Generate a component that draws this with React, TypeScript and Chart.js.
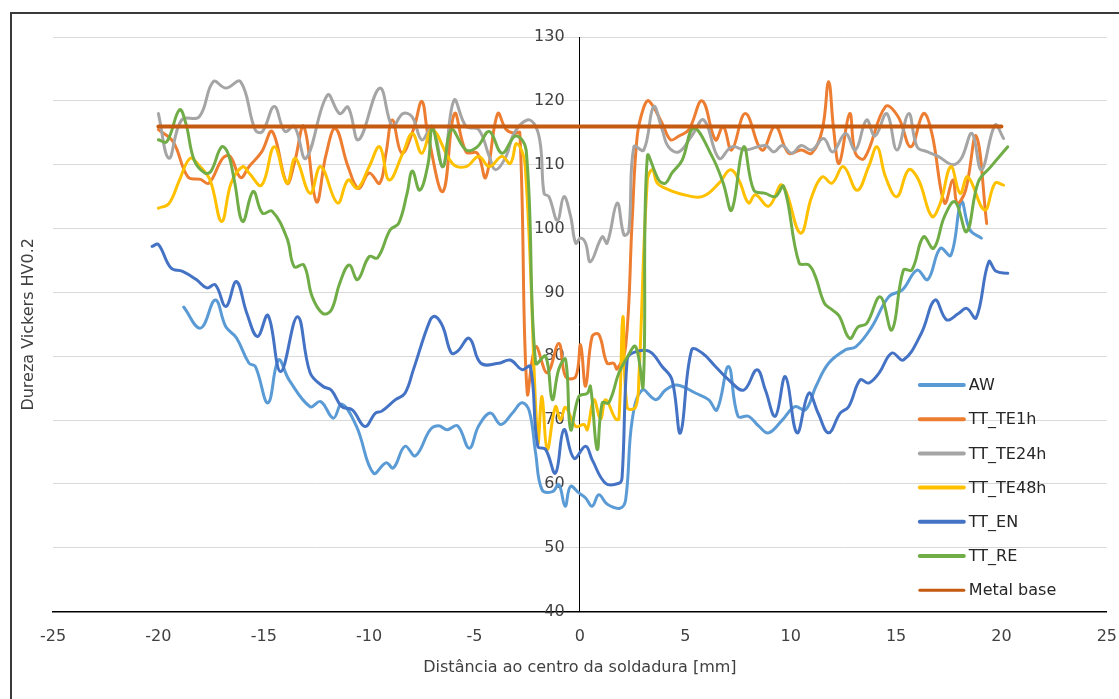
import React, { useEffect, useRef } from "react";
import { Chart, registerables } from "chart.js";

Chart.register(...registerables);

type Pt = [number, number];

const SERIES_NAMES = ["AW", "TT_TE1h", "TT_TE24h", "TT_TE48h", "TT_EN", "TT_RE", "Metal base"];
const SERIES_COLORS = ["#5B9BD5", "#ED7D31", "#A5A5A5", "#FFC000", "#4472C4", "#70AD47", "#C55A11"];

const X_MIN = -25;
const X_MAX = 25;
const X_STEP = 5;
const Y_MIN = 40;
const Y_MAX = 130;
const Y_STEP = 10;

const X_TITLE = "Distância ao centro da soldadura [mm]";
const Y_TITLE = "Dureza Vickers HV0.2";

const AW: Pt[] = [
  [-18.8, 87.7], [-18.0, 84.4], [-17.3, 88.8], [-16.8, 84.6], [-16.3, 82.9], [-15.7, 78.9], [-15.4, 78.4],
  [-14.8, 72.7], [-14.3, 79.4], [-13.8, 76.3], [-12.8, 72.1], [-12.3, 72.9], [-11.7, 70.3], [-11.3, 72.5],
  [-10.6, 69.0], [-9.8, 61.7], [-9.2, 63.3], [-8.85, 62.5], [-8.3, 65.9], [-7.8, 64.4], [-7.1, 68.5],
  [-6.7, 69.1], [-6.3, 68.5], [-5.8, 69.1], [-5.25, 65.6], [-4.8, 69.1], [-4.25, 71.1], [-3.75, 69.3],
  [-3.2, 71.1], [-2.75, 72.7], [-2.4, 71.4], [-2.1, 64.8], [-1.8, 59.1], [-1.3, 58.8], [-1.0, 59.9],
  [-0.7, 56.5], [-0.45, 59.6], [-0.05, 58.6], [0.27, 57.8], [0.58, 56.5], [0.9, 58.3], [1.3, 56.8],
  [1.9, 56.2], [2.17, 57.5], [2.48, 70.0], [2.95, 74.7], [3.6, 73.2], [4.06, 74.7], [4.6, 75.5],
  [5.5, 74.2], [6.1, 73.2], [6.5, 71.6], [7.05, 78.4], [7.5, 70.6], [8.0, 70.6], [8.5, 69.0],
  [8.95, 68.0], [9.6, 70.0], [10.2, 72.1], [10.7, 71.6], [11.2, 75.3], [11.8, 78.9], [12.6, 81.0],
  [13.1, 81.5], [13.85, 84.6], [14.65, 89.3], [15.3, 90.4], [16.0, 93.5], [16.5, 92.0], [17.1, 96.9],
  [17.6, 95.8], [18.1, 104.2], [18.5, 99.8], [19.05, 98.5],
];

const TT_TE1H: Pt[] = [
  [-20.0, 115.5], [-19.3, 113.6], [-18.6, 108.1], [-18.0, 107.7], [-17.6, 107.1], [-16.95, 111.0],
  [-16.6, 111.3], [-16.1, 108.0], [-15.7, 109.7], [-15.1, 112.0], [-14.6, 115.2], [-13.9, 107.1],
  [-13.55, 110.2], [-13.1, 116.0], [-12.5, 104.2], [-12.05, 111.5], [-11.6, 115.7], [-11.0, 109.7],
  [-10.5, 106.3], [-10.0, 108.7], [-9.5, 107.1], [-9.2, 111.8], [-8.9, 117.0], [-8.45, 111.8],
  [-7.9, 115.5], [-7.5, 119.9], [-7.2, 114.5], [-6.5, 105.8], [-5.95, 118.0], [-5.4, 112.0],
  [-4.87, 111.8], [-4.47, 108.0], [-3.9, 118.0], [-3.5, 115.5], [-3.1, 114.9], [-2.85, 115.0],
  [-2.5, 74.2], [-2.1, 81.5], [-1.55, 77.4], [-1.0, 82.0], [-0.68, 76.8], [-0.2, 76.8], [0.03, 81.8],
  [0.27, 75.3], [0.58, 83.1], [0.9, 83.4], [1.29, 78.9], [1.6, 78.9], [1.77, 78.0], [2.17, 81.5],
  [2.48, 101.3], [2.72, 114.5], [3.03, 119.0], [3.27, 120.0], [3.9, 116.5], [4.3, 113.9], [4.7, 114.5],
  [5.17, 115.5], [5.8, 120.0], [6.43, 113.9], [6.8, 116.0], [7.2, 112.3], [7.85, 118.0], [8.64, 112.3],
  [9.27, 116.0], [9.9, 111.8], [10.5, 112.3], [11.0, 111.8], [11.5, 115.5], [11.8, 123.0], [12.04, 115.5],
  [12.3, 110.2], [12.8, 118.0], [13.07, 111.8], [13.5, 111.0], [14.5, 119.1], [15.1, 117.5], [15.7, 112.8],
  [16.3, 118.0], [16.7, 114.9], [17.3, 104.0], [17.7, 107.6], [17.9, 104.0], [18.3, 106.0], [18.8, 114.5],
  [19.3, 100.8],
];

const TT_TE24H: Pt[] = [
  [-20.0, 118.0], [-19.5, 111.0], [-18.9, 117.0], [-18.06, 117.5], [-17.4, 123.0], [-16.8, 122.0],
  [-16.1, 123.0], [-15.4, 115.4], [-15.06, 115.2], [-14.5, 119.1], [-14.0, 115.2], [-13.55, 116.0],
  [-13.0, 111.0], [-11.98, 120.9], [-11.4, 118.0], [-11.0, 119.0], [-10.5, 113.9], [-9.5, 122.0],
  [-8.9, 116.0], [-8.4, 118.0], [-7.96, 117.5], [-7.5, 113.9], [-7.0, 116.0], [-6.5, 109.7],
  [-5.97, 120.1], [-5.4, 116.0], [-4.8, 115.5], [-4.3, 111.3], [-4.0, 109.2], [-3.5, 111.3],
  [-3.13, 114.9], [-2.5, 117.0], [-2.1, 116.0], [-1.86, 112.8], [-1.7, 105.5], [-1.47, 105.0],
  [-1.07, 101.3], [-0.76, 105.0], [-0.44, 101.9], [-0.2, 97.7], [0.03, 98.5], [0.27, 97.7], [0.5, 94.8],
  [1.06, 98.7], [1.29, 97.7], [1.77, 104.0], [2.09, 99.0], [2.32, 99.6], [2.56, 112.8], [3.03, 112.3],
  [3.5, 119.1], [3.9, 115.5], [4.2, 112.8], [4.7, 112.0], [5.3, 114.5], [5.88, 117.0], [6.6, 111.0],
  [7.2, 112.8], [7.85, 112.3], [8.8, 113.0], [9.2, 112.0], [9.6, 113.0], [10.05, 111.8], [10.5, 113.0],
  [11.0, 112.3], [11.56, 114.1], [12.0, 112.0], [12.6, 114.9], [13.07, 112.3], [13.6, 117.0], [14.0, 114.5],
  [14.56, 118.0], [15.04, 112.3], [15.6, 118.0], [16.0, 112.8], [16.5, 112.0], [17.0, 111.3], [17.7, 110.0],
  [18.1, 111.0], [18.6, 114.9], [19.05, 109.2], [19.7, 116.2], [20.1, 114.1],
];

const TT_TE48H: Pt[] = [
  [-20.0, 103.2], [-19.5, 103.9], [-19.0, 107.6], [-18.5, 111.0], [-18.1, 110.0], [-17.55, 107.6],
  [-17.0, 101.1], [-16.55, 107.1], [-16.0, 109.7], [-15.7, 108.7], [-15.1, 106.8], [-14.5, 112.8],
  [-13.9, 107.1], [-13.5, 111.0], [-12.8, 105.5], [-12.3, 109.7], [-11.5, 104.0], [-11.0, 107.6],
  [-10.55, 106.3], [-10.0, 109.7], [-9.5, 112.8], [-9.05, 107.6], [-8.4, 111.8], [-7.95, 114.9],
  [-7.5, 111.8], [-7.0, 115.5], [-6.05, 110.2], [-5.4, 109.7], [-4.8, 111.3], [-4.3, 109.7],
  [-3.7, 111.3], [-3.3, 110.2], [-3.0, 113.3], [-2.6, 110.0], [-2.0, 66.5], [-1.8, 73.7], [-1.55, 65.4],
  [-1.16, 72.1], [-0.92, 70.0], [-0.68, 72.0], [-0.2, 69.0], [0.19, 69.3], [0.35, 68.5], [0.66, 73.2],
  [0.98, 70.2], [1.22, 73.2], [1.69, 70.2], [1.85, 70.2], [2.04, 86.2], [2.24, 72.0], [2.64, 72.0],
  [2.8, 76.8], [3.2, 107.6], [3.44, 109.2], [3.67, 107.1], [4.06, 106.3], [4.7, 105.5], [5.8, 105.0],
  [6.6, 107.1], [7.14, 109.2], [7.54, 107.6], [8.0, 104.0], [8.33, 105.3], [8.96, 103.5], [9.6, 106.8],
  [10.46, 99.3], [11.0, 105.0], [11.5, 108.1], [11.96, 107.1], [12.5, 109.7], [13.15, 106.0], [13.7, 109.7],
  [14.1, 112.8], [14.5, 108.1], [15.04, 105.0], [15.6, 109.2], [16.07, 107.6], [16.7, 101.9], [17.1, 104.0],
  [17.6, 109.7], [18.04, 105.5], [18.4, 108.1], [19.2, 102.9], [19.7, 107.1], [20.1, 106.8],
];

const TT_EN: Pt[] = [
  [-20.3, 97.2], [-20.0, 97.5], [-19.4, 93.8], [-18.85, 93.3], [-18.2, 92.0], [-17.7, 90.7], [-17.3, 91.2],
  [-16.8, 87.8], [-16.3, 91.7], [-15.8, 86.7], [-15.3, 83.1], [-14.8, 86.4], [-14.2, 77.6], [-13.4, 86.2],
  [-12.8, 77.4], [-12.2, 75.3], [-11.8, 74.7], [-11.3, 72.1], [-10.8, 71.6], [-10.2, 69.0], [-9.7, 71.1],
  [-9.4, 71.4], [-8.75, 73.2], [-8.3, 74.2], [-7.9, 77.9], [-7.1, 85.7], [-6.85, 86.2], [-6.5, 84.6],
  [-6.1, 80.5], [-5.8, 80.8], [-5.25, 82.8], [-4.7, 78.9], [-3.85, 78.9], [-3.3, 79.4], [-2.75, 77.9],
  [-2.35, 78.4], [-2.0, 65.9], [-1.63, 65.4], [-1.16, 61.7], [-0.76, 68.5], [-0.28, 64.0], [0.27, 65.9],
  [0.58, 63.8], [1.22, 60.1], [1.85, 60.1], [2.0, 61.0], [2.24, 79.4], [2.48, 80.5], [3.27, 80.8],
  [3.9, 78.4], [4.37, 76.3], [4.77, 68.0], [5.3, 81.0], [5.8, 80.5], [6.43, 78.4], [7.06, 76.3],
  [7.77, 74.7], [8.4, 77.9], [8.8, 74.7], [9.27, 70.6], [9.75, 76.8], [10.3, 68.0], [10.86, 74.2],
  [11.3, 71.1], [11.8, 68.0], [12.35, 71.1], [12.75, 72.1], [13.3, 76.3], [13.7, 75.8], [14.2, 77.4],
  [14.8, 80.5], [15.35, 79.4], [16.2, 83.6], [16.85, 88.8], [17.4, 85.7], [17.96, 86.7], [18.35, 87.5],
  [18.8, 86.0], [19.4, 94.8], [19.75, 93.3], [20.3, 93.0],
];

const TT_RE: Pt[] = [
  [-20.0, 113.9], [-19.6, 113.6], [-19.0, 118.6], [-18.7, 116.5], [-18.3, 110.7], [-17.8, 108.7],
  [-17.5, 109.0], [-17.0, 112.8], [-16.7, 111.8], [-16.4, 107.6], [-16.0, 101.1], [-15.5, 105.8],
  [-15.06, 102.4], [-14.6, 102.7], [-13.9, 98.5], [-13.55, 94.0], [-13.1, 94.3], [-12.7, 89.3],
  [-12.2, 86.7], [-11.8, 87.2], [-11.4, 91.4], [-10.95, 94.3], [-10.55, 92.0], [-10.0, 95.6], [-9.6, 95.4],
  [-9.0, 99.8], [-8.6, 100.8], [-8.2, 105.5], [-7.95, 109.0], [-7.6, 106.0], [-7.2, 110.2], [-7.0, 115.7],
  [-6.5, 109.7], [-6.1, 115.5], [-5.4, 112.3], [-4.87, 112.8], [-4.3, 115.2], [-3.7, 111.8], [-3.05, 114.5],
  [-2.55, 112.3], [-2.1, 78.9], [-1.63, 80.0], [-1.31, 73.2], [-1.0, 78.0], [-0.68, 79.5], [-0.44, 68.5],
  [-0.05, 73.7], [0.35, 74.2], [0.5, 75.3], [0.82, 65.4], [1.06, 72.7], [1.37, 72.7], [1.85, 77.4],
  [2.17, 79.4], [2.64, 81.5], [3.0, 75.3], [3.2, 111.3], [3.74, 107.6], [4.06, 107.1], [4.37, 108.7],
  [4.85, 110.7], [5.4, 115.7], [6.27, 111.3], [6.8, 107.1], [7.2, 102.9], [7.77, 112.8], [8.25, 106.0],
  [8.8, 105.5], [9.27, 105.0], [9.67, 106.6], [10.4, 94.6], [10.86, 94.3], [11.17, 92.5], [11.6, 88.3],
  [11.96, 87.3], [12.3, 86.3], [12.8, 82.8], [13.2, 84.6], [13.6, 85.1], [14.25, 89.3], [14.8, 84.1],
  [15.35, 93.5], [15.75, 93.5], [16.3, 98.7], [16.78, 96.9], [17.3, 101.9], [17.8, 104.2], [18.35, 99.5],
  [18.9, 107.3], [19.5, 109.7], [20.3, 112.8],
];

const METAL_BASE: Pt[] = [
  [-20.0, 116.0], [20.0, 116.0],
];

const SERIES_DATA: Pt[][] = [AW, TT_TE1H, TT_TE24H, TT_TE48H, TT_EN, TT_RE, METAL_BASE];

const FONT_FAMILY = '"DejaVu Sans", "Liberation Sans", sans-serif';
const TEXT_COLOR = "#404040";

const decorPlugin = {
  id: "decor",
  beforeDraw(chart: any) {
    const { ctx, width, height } = chart;
    ctx.save();
    ctx.fillStyle = "#ffffff";
    ctx.fillRect(0, 0, width, height);
    ctx.restore();
  },
  afterDraw(chart: any) {
    const { ctx, chartArea, width, height } = chart;
    ctx.save();
    // outer frame (left and top edges visible)
    ctx.strokeStyle = "#3a3a3a";
    ctx.lineWidth = 2;
    ctx.beginPath();
    ctx.moveTo(11, height);
    ctx.lineTo(11, 13);
    ctx.lineTo(width, 13);
    ctx.stroke();

    // y-axis title
    ctx.fillStyle = TEXT_COLOR;
    ctx.font = `16px ${FONT_FAMILY}`;
    ctx.textAlign = "center";
    ctx.textBaseline = "middle";
    ctx.translate(29, (chartArea.top + chartArea.bottom) / 2);
    ctx.rotate(-Math.PI / 2);
    ctx.fillText(Y_TITLE, 0, 0);
    ctx.restore();

    // legend inside plot
    ctx.save();
    const lx = chartArea.right - 187;
    const ly = 385;
    const gap = 34.2;
    chart.data.datasets.forEach((ds: any, i: number) => {
      const y = ly + i * gap;
      ctx.strokeStyle = ds.borderColor;
      ctx.lineWidth = i === 6 ? 3 : 4;
      ctx.lineCap = "round";
      ctx.beginPath();
      ctx.moveTo(lx, y);
      ctx.lineTo(lx + 44, y);
      ctx.stroke();
      ctx.fillStyle = "#262626";
      ctx.font = `16px ${FONT_FAMILY}`;
      ctx.textAlign = "left";
      ctx.textBaseline = "middle";
      ctx.fillText(ds.label, lx + 49, y + 1);
    });
    ctx.restore();
  },
};

export default function App() {
  const canvasRef = useRef<HTMLCanvasElement | null>(null);

  useEffect(() => {
    if (!canvasRef.current) return;
    const datasets = SERIES_DATA.map((pts, i) => ({
      label: SERIES_NAMES[i],
      data: pts.map(([x, y]) => ({ x, y })),
      borderColor: SERIES_COLORS[i],
      backgroundColor: SERIES_COLORS[i],
      borderWidth: i === 6 ? 4 : 3,
      pointRadius: 0,
      pointHoverRadius: 0,
      tension: i === 6 ? 0 : 0.4,
      fill: false,
      order: SERIES_DATA.length - 1 - i,
      borderCapStyle: "round" as const,
      borderJoinStyle: "round" as const,
    }));

    const chart = new Chart(canvasRef.current, {
      type: "line",
      data: { datasets },
      plugins: [decorPlugin],
      options: {
        animation: false,
        responsive: false,
        maintainAspectRatio: false,
        devicePixelRatio: 1,
        layout: { padding: { left: 53, right: 11, top: 37, bottom: 22 } },
        plugins: {
          legend: { display: false },
          tooltip: { enabled: false },
          title: { display: false },
        },
        scales: {
          x: {
            type: "linear",
            min: X_MIN,
            max: X_MAX,
            ticks: {
              stepSize: X_STEP,
              color: TEXT_COLOR,
              font: { family: FONT_FAMILY, size: 16 },
              padding: 2,
              maxRotation: 0,
            },
            grid: {
              display: true,
              color: "transparent",
              drawOnChartArea: false,
              drawTicks: true,
              tickLength: 14,
            },
            border: { display: true, color: "#000000", width: 1.5 },
            title: {
              display: true,
              text: X_TITLE,
              color: TEXT_COLOR,
              font: { family: FONT_FAMILY, size: 16 },
              padding: { top: 9, bottom: 0 },
            },
          },
          y: {
            type: "linear",
            position: { x: 0 } as any,
            min: Y_MIN,
            max: Y_MAX,
            ticks: {
              stepSize: Y_STEP,
              color: TEXT_COLOR,
              font: { family: FONT_FAMILY, size: 16 },
              padding: 14,
              // label sits to the left of the centred axis, with a gap as in the reference
              callback: (v: any) => `${v}\u00a0\u00a0\u00a0`,
            },
            grid: { color: "#d9d9d9", lineWidth: 1, drawTicks: false },
            border: { display: true, color: "#000000", width: 1 },
          },
        },
      },
    });
    return () => chart.destroy();
  }, []);

  return (
    <div style={{ position: "fixed", left: 0, top: 0, width: 1119, height: 699, background: "#fff" }}>
      <canvas ref={canvasRef} width={1119} height={699} style={{ display: "block" }} />
    </div>
  );
}
